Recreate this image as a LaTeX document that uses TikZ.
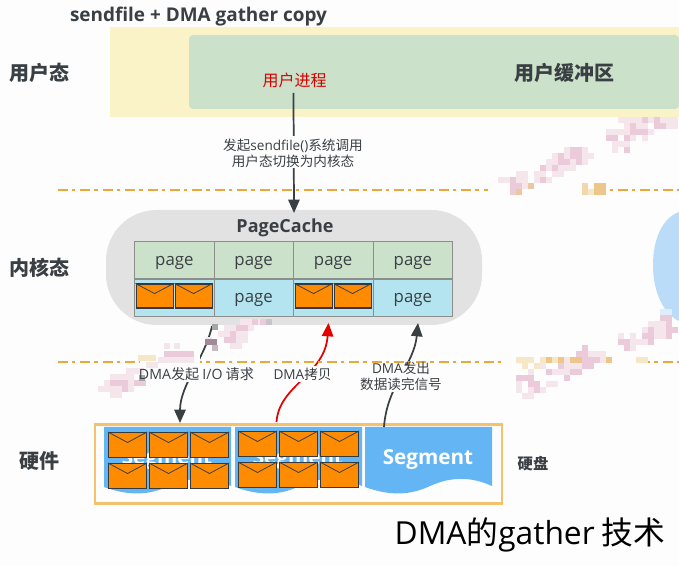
\documentclass[tikz,border=0pt]{standalone}
\usepackage{fontspec}
\setmainfont{Noto Sans CJK SC}
\newfontfamily\latf{Open Sans}
\newcommand{\lat}[1]{{\latf #1}}
\newcommand{\pg}{\raisebox{-3.6pt}[0pt][0pt]{page}}
\usetikzlibrary{arrows.meta}
\definecolor{bgc}{HTML}{FDFDFD}
\definecolor{ylw}{HTML}{FBF3C8}
\definecolor{grn}{HTML}{CBE1C9}
\definecolor{cyn}{HTML}{B3E4F0}
\definecolor{gry}{HTML}{E2E2E2}
\definecolor{blu}{HTML}{64B5F4}
\definecolor{lblu}{HTML}{BBDCF8}
\definecolor{org}{HTML}{FF8C00}
\definecolor{ink}{HTML}{3A3F44}
\definecolor{dsh}{HTML}{E8A93A}
\definecolor{pkm}{HTML}{EBCBD9}
\definecolor{pkl}{HTML}{F5E6EC}
\definecolor{orl}{HTML}{EDC78A}
\definecolor{orp}{HTML}{F6E8C6}
\definecolor{mau}{HTML}{A08A98}
\definecolor{gold}{HTML}{F5C26B}
\newcommand{\cellrow}[3]{\foreach \cx in {#3} \fill[#1] (\cx,#2) rectangle ++(6,6);}
\newcommand{\envl}[5]{%
  \node[envbox,minimum width=#3*0.75pt,minimum height=#4*0.75pt,anchor=north west] (#5) at (#1,#2) {};
  \draw[flap] (#5.north west) -- (#5.center |- 0,#2+0.42*#4) -- (#5.north east);}
\tikzset{
  lbl/.style={font=\fontsize{10.2pt}{12pt}\selectfont,text=ink,align=center,inner sep=0pt},
  bold/.style={font=\fontsize{15pt}{18pt}\selectfont\bfseries,text=ink,inner sep=0pt},
  tcell/.style={draw=#1,line width=0.9pt,inner sep=0pt,font=\fontsize{12.6pt}{14pt}\selectfont\latf,text=ink},
  envbox/.style={draw=ink!90!black,fill=org,line width=0.8pt,inner sep=0pt},
  flap/.style={draw=ink,line width=0.6pt},
  conn/.style={line width=1.3pt,draw=ink,-{Triangle[length=10pt,width=8.5pt]}},
  seg/.style={fill=blu},
  segtxt/.style={font=\fontsize{15.5pt}{20pt}\selectfont\latf\bfseries,text=white,inner sep=0pt},
  dashln/.style={draw=dsh,line width=1.2pt,dash pattern=on 7.5pt off 3pt on 2.5pt off 3.8pt}
}
\begin{document}
\begin{tikzpicture}[x=0.75pt,y=-0.75pt]
\useasboundingbox (0,0) rectangle (679,566);
\fill[bgc] (0,0) rectangle (679,566);

% user space
\fill[ylw] (110,27) rectangle (679,117);
\fill[grn,rounded corners=3pt] (189,35) -- (189,109) -- (679,109) -- (679,35) -- cycle;
\node[font=\fontsize{14.2pt}{17pt}\selectfont\latf\bfseries,text=ink,inner sep=0pt] (title) at (198.5,17) {sendfile + DMA gather copy};
\node[bold] (usr) at (40,73) {用户态};
\node[bold] (ubuf) at (564,73) {用户缓冲区};
\node[font=\fontsize{12pt}{14pt}\selectfont,text=red!85!black,inner sep=0pt] (proc) at (294.5,80) {用户进程};

% kernel
\fill[gry,rounded corners=38pt] (106,210) rectangle (482,325);
\node[font=\fontsize{13.5pt}{16pt}\selectfont\latf\bfseries,text=ink,inner sep=0pt] (pc) at (285,228) {PageCache};
\node[bold] (ker) at (40,268) {内核态};
\fill[lblu] (679,212) .. controls (662,218) and (653,240) .. (653,265) .. controls (653,290) and (662,313) .. (679,321) -- cycle;

\foreach \nm/\xa/\w in {a/134/79.5,b/213.5/79,c/292.5/80,d/372.5/79.5}{
  \node[tcell=gray!85!grn,fill=grn,minimum width=\w*0.75pt,minimum height=37.5*0.75pt,anchor=north west] (t\nm) at (\xa,241) {\pg};
}
\node[tcell=gray!85!grn,fill=cyn,minimum width=79.5*0.75pt,minimum height=37.5*0.75pt,anchor=north west] (ba) at (134,278.5) {};
\node[tcell=gray!85!grn,fill=cyn,minimum width=79*0.75pt,minimum height=37.5*0.75pt,anchor=north west] (bb) at (213.5,278.5) {\pg};
\node[tcell=gray!85!grn,fill=cyn,minimum width=80*0.75pt,minimum height=37.5*0.75pt,anchor=north west] (bc) at (292.5,278.5) {};
\node[tcell=gray!85!grn,fill=cyn,minimum width=79.5*0.75pt,minimum height=37.5*0.75pt,anchor=north west] (bd) at (372.5,278.5) {\pg};
\envl{135.5}{283.5}{37}{24}{ea}
\envl{174.5}{283.5}{37}{24}{eb}
\envl{294.5}{283.5}{37}{24}{ec}
\envl{333.5}{283.5}{37}{24}{ed}

% hardware
\node[bold] (hw) at (40,461) {硬件};
\node[font=\fontsize{11.5pt}{14pt}\selectfont\bfseries,text=ink,inner sep=0pt] (hd) at (533,464) {硬盘};
\node[draw=gold,line width=1.8pt,minimum width=407*0.75pt,minimum height=79*0.75pt,anchor=north west,inner sep=0pt] (disk) at (94,423.5) {};
\foreach \nm/\xo in {sa/104,sb/235,sc/365}{
  \fill[seg] (\xo,427) -- (\xo+127,427) -- (\xo+127,486)
    .. controls (\xo+105,476) and (\xo+85,477) .. (\xo+65,486)
    .. controls (\xo+50,493) and (\xo+30,498) .. (\xo,487) -- cycle;
}
\node[segtxt] (s1) at (167,460) {Segment};
\node[segtxt] (s2) at (298,460) {Segment};
\node[segtxt] (s3) at (428,460) {Segment};
\foreach \xx/\tg in {108/f1,149/f2,190/f3}{
  \envl{\xx}{432}{38}{25}{\tg a}
  \envl{\xx}{463}{38}{25}{\tg b}
}
\foreach \xx/\tg in {238/g1,279/g2,320/g3}{
  \envl{\xx}{431}{38}{25}{\tg a}
  \envl{\xx}{462}{38}{25}{\tg b}
}

% connectors
\coordinate (pa) at (293.5,93); \coordinate (pb) at (294,213);
\draw[conn] (pa) -- (pb);
\coordinate (da) at (212,326); \coordinate (db) at (180,423);
\draw[conn] (da) .. controls (205,358) and (180,385) .. (db);
\coordinate (ra) at (276.5,422); \coordinate (rb) at (328.5,323);
\draw[conn,draw=red!90!black] (ra) .. controls (279,385) and (325,375) .. (rb);
\coordinate (ga) at (384,427); \coordinate (gb) at (418,323);
\draw[conn] (ga) .. controls (387,385) and (414,365) .. (gb);

% label grounds
\fill[bgc] (222,136) rectangle (364,168);
\fill[bgc] (138,366) rectangle (255,382);
\fill[bgc] (272,366) rectangle (333,382);
\fill[bgc] (360,365) rectangle (443,392);

% dashed separators
\coordinate (d1a) at (58,190); \coordinate (d1b) at (679,190);
\coordinate (d2a) at (58,362); \coordinate (d2b) at (679,362);
\draw[dashln] (d1a) -- (d1b);
\draw[dashln] (d2a) -- (d2b);

% mosaic
\fill[bgc] (488,184) rectangle (610,196);
\fill[bgc] (505,355) rectangle (646,369);
\fill[bgc] (140,355) rectangle (200,369);
% top right
\cellrow{pkl}{117}{618,624,630,636,648,660,666,672}
\cellrow{pkm}{117}{642,654}
\cellrow{pkl}{123}{624,636,642,666,672}
\cellrow{pkm}{123}{630,654,660}
\cellrow{pkl}{129}{606,612,618,624,648}
\cellrow{pkm}{129}{630,636,642}
\cellrow{pkm}{135}{606,612,624}
\cellrow{pkl}{135}{630,642}
\cellrow{pkl}{141}{618,624,612}
\cellrow{pkl}{147}{612}
\cellrow{pkm}{147}{624,570,576}
\cellrow{pkl}{147}{564,582}
\cellrow{pkm}{153}{558,570,576}
\cellrow{pkl}{153}{552,564,582,588}
\cellrow{pkl}{159}{546,552,570,582}
\cellrow{pkm}{159}{558,564,576}
\cellrow{pkm}{165}{540,552}
\cellrow{pkl}{165}{546,558,564,570}
\cellrow{pkl}{171}{516,522,534,540,552,558}
\cellrow{pkl}{177}{498,504,516,522,534,546}
\cellrow{pkm}{177}{510,540}
\cellrow{pkm}{183}{510,516}
\cellrow{pkl}{183}{522}
\cellrow{pkm}{189}{510,516}
\fill[orl!70!pkm] (528,183) rectangle ++(6,6);
\fill[orl!70!pkm] (516,189) rectangle ++(6,6);
\cellrow{orl}{183}{594,600}
\cellrow{orl}{189}{594,600}
\cellrow{orl!70!white}{183}{582}
\cellrow{orl!70!white}{189}{582}
\cellrow{orp}{189}{588}
% lower right
\cellrow{lblu!50!white}{309}{660,666}
\cellrow{pkm}{315}{660,666}
\cellrow{pkl}{321}{648,654,660}
\cellrow{pkm}{321}{666}
\cellrow{pkl}{327}{642,654,660}
\cellrow{pkm}{327}{648,666,672}
\cellrow{pkl}{333}{618,630,660,654}
\cellrow{pkm}{333}{642,648,666}
\cellrow{pkm}{339}{618,624,648}
\cellrow{pkl}{339}{630,636,642}
\cellrow{pkm}{345}{624,582}
\cellrow{pkl}{345}{630}
\cellrow{pkm}{351}{576,582}
\cellrow{pkl}{351}{588,594,600}
\cellrow{orp}{357}{516,522,528,540,552}
\cellrow{orl}{357}{546,558,570,576,606}
\cellrow{pkm}{357}{582,588,594}
\cellrow{pkl}{357}{564,600}
\cellrow{orp}{357}{636,642}
\cellrow{pkl}{363}{540,564,570,576}
\cellrow{pkm}{363}{558,582,588}
\cellrow{orp}{363}{522,534}
\cellrow{pkm}{369}{546,570,576}
\cellrow{pkl}{369}{552,558,564}
\cellrow{pkl}{369}{528}
\cellrow{pkm}{375}{516,522,528,564}
\cellrow{pkl}{381}{516,546,552}
\cellrow{pkm}{381}{528,534}
\cellrow{pkl}{387}{516,528,540}
\cellrow{pkm}{387}{534}
\cellrow{pkl}{393}{522,528}
% lower left
\cellrow{gray!45}{319}{266}
\cellrow{pkl}{319}{240,246,256}
\cellrow{pkm}{319}{252,260}
\cellrow{pkm}{325}{236,242}
\cellrow{pkl}{325}{224,230,248}
\cellrow{pkl}{331}{218,224,236,242}
\cellrow{pkm}{331}{230}
\cellrow{gray!70}{324}{212}
\cellrow{pkm}{337}{224,230}
\cellrow{pkl}{337}{236,242,206}
\cellrow{mau}{339}{205,211}
\cellrow{mau!60!white}{345}{212}
\cellrow{pkl}{343}{164,174,230,236}
\cellrow{pkm}{351}{164,170,176,182,188}
\cellrow{pkl}{357}{158,164,170,176,182,188}
\cellrow{orp}{355}{138,144,150}
\cellrow{pkl}{362}{146,152}
\cellrow{pkl}{368}{126,132,138}
\cellrow{pkl}{374}{110,116,122,128}
\cellrow{pkm}{380}{110,116,122}
\cellrow{pkl}{380}{104,128}
\cellrow{pkm}{380}{134,140}
\cellrow{pkl}{386}{98,104,110,116,128}
\cellrow{pkm}{386}{122}
\cellrow{pkl}{392}{110,116}
\cellrow{gray!70}{375}{139}

% labels on connectors
\node[lbl] (syscall) at (293,153) {发起\lat{sendfile()}系统调用\\用户态切换为内核态};
\node[lbl,font=\fontsize{10.6pt}{12pt}\selectfont] (l1) at (196.5,374) {\lat{DMA}发起 \lat{I/O} 请求};
\node[lbl] (l2) at (302.5,374.5) {\lat{DMA}拷贝};
\node[lbl] (l3) at (401,376) {\lat{DMA}发出\\数据读完信号};

% caption
\node[font=\fontsize{23.8pt}{28pt}\selectfont,text=black,inner sep=0pt] (cap) at (530,535) {\lat{DMA}的\lat{gather} 技术};
\end{tikzpicture}
\end{document}
